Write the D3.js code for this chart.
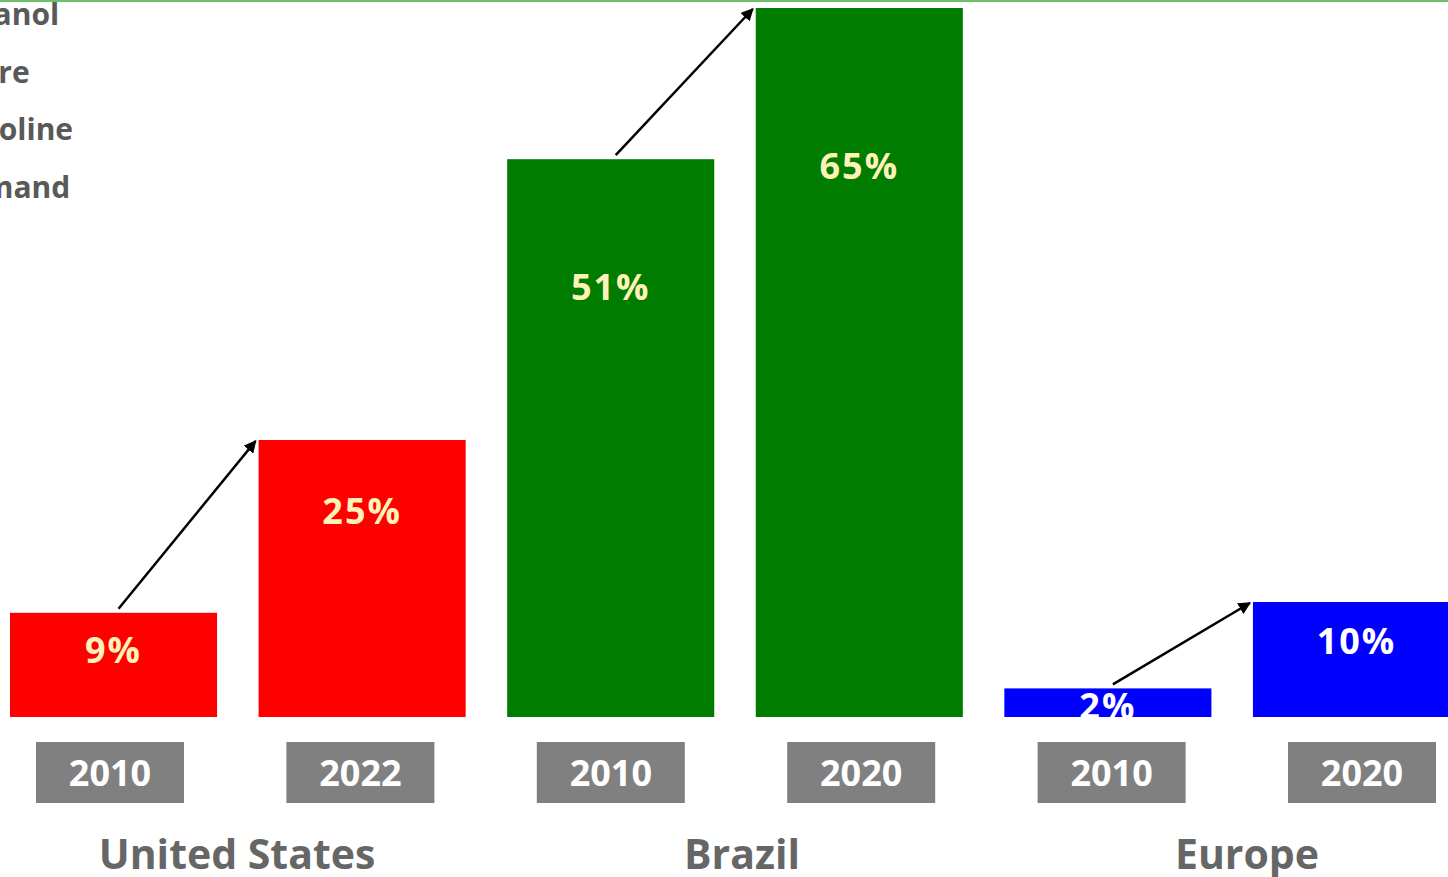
<!DOCTYPE html>
<html><head><meta charset="utf-8">
<script src="https://cdn.jsdelivr.net/npm/d3@7"></script>
<style>html,body{margin:0;padding:0;background:#fff;overflow:hidden}svg{display:block;font-family:"Open Sans",sans-serif}</style>
</head><body><svg id="c" width="1448" height="877"></svg>
<script>
const regions = ["United States", "Brazil", "Europe"];
const years = ["2010", "2022", "2010", "2020", "2010", "2020"];
const regionOf = ["United States", "United States", "Brazil", "Brazil", "Europe", "Europe"];
const shares = [9, 25, 51, 65, 2, 10];
const legendLines = ["Ethanol", "Share", "Gasoline", "Demand"];
const regionColors = {"United States": "#ff0000", "Brazil": "#007d00", "Europe": "#0000ff"};
const labelColors = {"United States": "#fff2b8", "Brazil": "#fff2b8", "Europe": "#ffffff"};

const svg = d3.select("#c");
const W = 1448, H = 877;
const baseline = 717;
const keys = shares.map((d, i) => i);
const x = d3.scaleBand().domain(keys).range([10, 1460]).paddingInner(0.167).paddingOuter(0);
const y = d3.scaleLinear().domain([0, 65]).range([710, 8]);
const xYear = d3.scalePoint().domain(keys).range([110, 1362]);
const xRegion = d3.scalePoint().domain(regions).range([237, 1247]);

// top green rule
svg.append("line").attr("x1", 0).attr("x2", W).attr("y1", 1).attr("y2", 1)
  .attr("stroke", "#6cbf6c").attr("stroke-width", 2);

// legend text (clipped at left edge)
svg.append("g").selectAll("text").data(legendLines).join("text")
  .attr("x", -56).attr("y", (d, i) => 25 + i * 57.5)
  .attr("font-size", 30).attr("font-weight", 700).attr("fill", "#595959").text(d => d);

// bars
svg.append("g").selectAll("rect").data(keys).join("rect")
  .attr("x", i => x(i)).attr("width", x.bandwidth())
  .attr("y", i => y(shares[i])).attr("height", i => baseline - y(shares[i]))
  .attr("fill", i => regionColors[regionOf[i]]);

// value labels
svg.append("g").selectAll("text").data(keys).join("text")
  .attr("x", i => x(i) + x.bandwidth() / 2)
  .attr("y", i => { const t = y(shares[i]), h = baseline - t; return t + Math.min(16 + h * 0.2, h / 2 + 3); })
  .attr("dy", "0.36em").attr("text-anchor", "middle")
  .attr("font-size", 36).attr("font-weight", 700).attr("letter-spacing", 2)
  .attr("fill", i => labelColors[regionOf[i]]).text(i => shares[i] + "%");

// arrows
const defs = svg.append("defs");
defs.append("marker").attr("id", "ah").attr("viewBox", "0 0 10 10").attr("refX", 9).attr("refY", 5)
  .attr("markerWidth", 5).attr("markerHeight", 5).attr("orient", "auto")
  .append("path").attr("d", "M0,0L10,5L0,10z").attr("fill", "#000");
const pairs = regions.map(r => keys.filter(i => regionOf[i] === r));
svg.append("g").selectAll("line").data(pairs).join("line")
  .attr("x1", p => x(p[0]) + x.bandwidth() / 2 + 5).attr("y1", p => y(shares[p[0]]) - 4)
  .attr("x2", p => x(p[1]) - 3).attr("y2", p => y(shares[p[1]]) + 1)
  .attr("stroke", "#000").attr("stroke-width", 2.5).attr("marker-end", "url(#ah)");

// year boxes
const yb = svg.append("g").selectAll("g").data(keys).join("g")
  .attr("transform", i => `translate(${xYear(i)},0)`);
yb.append("rect").attr("x", -74).attr("width", 148).attr("y", 742).attr("height", 61).attr("fill", "#808080");
yb.append("text").attr("y", 773).attr("dy", "0.36em").attr("text-anchor", "middle")
  .attr("font-size", 36).attr("font-weight", 700).attr("fill", "#fff").text(i => years[i]);

// region labels
svg.append("g").selectAll("text").data(regions).join("text")
  .attr("x", r => xRegion(r))
  .attr("y", 869).attr("text-anchor", "middle")
  .attr("font-size", 41).attr("font-weight", 700).attr("fill", "#666").text(r => r);
</script></body></html>
